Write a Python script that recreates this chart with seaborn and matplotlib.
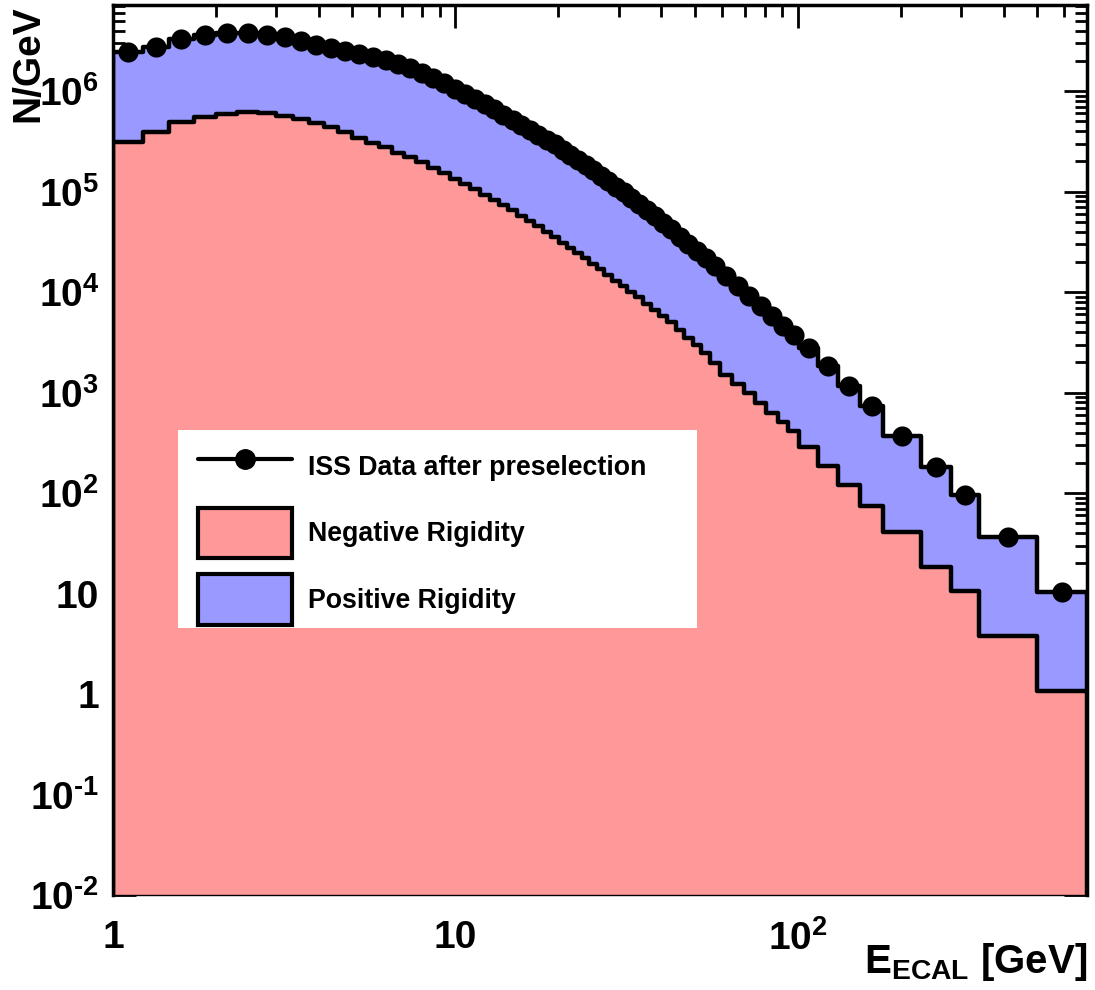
import numpy as np
import pandas as pd
import matplotlib
matplotlib.use("Agg")
import matplotlib.pyplot as plt
import seaborn as sns
from matplotlib.ticker import LogLocator, FuncFormatter, NullFormatter, FixedLocator
from matplotlib.lines import Line2D
from matplotlib.patches import Patch, Rectangle

# bin edges in GeV
edges = [1.00, 1.22, 1.46, 1.72, 2.00, 2.31, 2.65, 3.00, 3.36, 3.73,
         4.12, 4.54, 5.00, 5.49, 6.00, 6.54, 7.10, 7.69, 8.30, 8.95,
         9.62, 10.32, 11.04, 11.80, 12.59, 13.41, 14.25, 15.14, 16.05, 17.00,
         17.98, 18.99, 20.04, 21.13, 22.25, 23.42, 24.62, 25.90, 27.25, 28.68,
         30.21, 31.82, 33.53, 35.36, 37.31, 39.39, 41.61, 44.00, 46.57, 49.33,
         52.33, 55.58, 59.5, 64.5, 69.5, 75.0, 81.0, 87.5, 94.0, 101.0,
         115.0, 131.0, 152.0, 178.0, 229.0, 280.0, 338.0, 500.0, 700.0]

# ISS data (= negative + positive), N/GeV per bin
total = [2.43e6, 2.72e6, 3.29e6, 3.60e6, 3.78e6, 3.78e6, 3.60e6, 3.42e6, 3.16e6, 2.87e6,
         2.70e6, 2.50e6, 2.35e6, 2.20e6, 2.03e6, 1.87e6, 1.70e6, 1.52e6, 1.36e6, 1.20e6,
         1.06e6, 9.4e5, 8.3e5, 7.4e5, 6.6e5, 5.8e5, 5.15e5, 4.6e5, 4.1e5, 3.7e5,
         3.3e5, 2.95e5, 2.62e5, 2.33e5, 2.07e5, 1.84e5, 1.63e5, 1.44e5, 1.27e5, 1.12e5,
         9.85e4, 8.6e4, 7.5e4, 6.6e4, 5.7e4, 4.9e4, 4.2e4, 3.55e4, 3.0e4, 2.55e4,
         2.18e4, 1.81e4, 1.44e4, 1.15e4, 9.1e3, 7.26e3, 5.77e3, 4.59e3, 3.73e3, 2.75e3,
         1.82e3, 1.16e3, 735, 369, 181, 95.5, 36.5, 10.4]

# negative rigidity part, N/GeV per bin
negative = [3.1e5, 3.9e5, 4.9e5, 5.5e5, 5.9e5, 6.15e5, 6.05e5, 5.65e5, 5.25e5, 4.8e5,
            4.35e5, 3.9e5, 3.45e5, 3.08e5, 2.75e5, 2.45e5, 2.2e5, 1.96e5, 1.72e5, 1.52e5,
            1.34e5, 1.19e5, 1.05e5, 9.3e4, 8.2e4, 7.3e4, 6.5e4, 5.75e4, 5.1e4, 4.5e4,
            3.95e4, 3.5e4, 3.1e4, 2.75e4, 2.45e4, 2.18e4, 1.92e4, 1.7e4, 1.48e4, 1.3e4,
            1.15e4, 1.0e4, 8.9e3, 7.7e3, 6.7e3, 5.8e3, 5.0e3, 4.2e3, 3.5e3, 2.95e3,
            2.45e3, 1.95e3, 1.5e3, 1.22e3, 980, 780, 620, 510, 410, 290,
            186, 120, 74, 41, 18.4, 10.6, 3.8, 1.07]

legend_labels = ["ISS Data after preselection", "Negative Rigidity", "Positive Rigidity"]
x_major = [1, 10, 100]
y_major = [1e-2, 1e-1, 1, 10, 1e2, 1e3, 1e4, 1e5, 1e6]

RED = "#FF9999"
BLUE = "#9999FF"

sns.set_theme(style="white")
plt.rcParams["font.family"] = ["Liberation Sans", "DejaVu Sans"]
plt.rcParams["font.weight"] = "bold"
plt.rcParams["text.color"] = "black"
plt.rcParams["xtick.color"] = "black"
plt.rcParams["ytick.color"] = "black"
plt.rcParams["axes.labelcolor"] = "black"
plt.rcParams["mathtext.fontset"] = "custom"
for k in ["rm", "it", "bf", "sf"]:
    plt.rcParams["mathtext." + k] = "Liberation Sans:bold"
plt.rcParams["mathtext.default"] = "rm"

edges_arr = np.array(edges)
centers = np.sqrt(edges_arr[:-1] * edges_arr[1:])
log_bins = np.log10(edges_arr).tolist()  # seaborn bins live in log space when log_scale=True
df = pd.DataFrame({"E": centers, "total": total, "negative": negative})

fig = plt.figure(figsize=(10.95, 9.9), dpi=100)
ax = fig.add_axes([113 / 1095, 95 / 990, 974 / 1095, 890 / 990])

# stacked look: total drawn in blue, negative part drawn over it in red
sns.histplot(data=df, x="E", weights="total", bins=log_bins, log_scale=True,
             element="step", fill=True, color=BLUE, alpha=1, edgecolor="black",
             linewidth=3.2, legend=False, ax=ax)
sns.histplot(data=df, x="E", weights="negative", bins=log_bins, log_scale=True,
             element="step", fill=True, color=RED, alpha=1, edgecolor="black",
             linewidth=3.2, legend=False, ax=ax)
sns.scatterplot(data=df, x="E", y="total", color="black", s=210, linewidth=0,
                zorder=4, legend=False, ax=ax)

ax.set_yscale("log")
ax.set_xlim(1, 700)
ax.set_ylim(1e-2, 7.2e6)
ax.set_xlabel(None)
ax.set_ylabel(None)
ax.set_axisbelow(True)


def fmt(v, pos):
    if np.isclose(v, 1):
        return "1"
    if np.isclose(v, 10):
        return "10"
    e = int(round(np.log10(v)))
    if e < 0:
        return r"$10^{\text{-}%d}$" % (-e)
    return r"$10^{%d}$" % e


ax.xaxis.set_major_locator(FixedLocator(x_major))
ax.xaxis.set_minor_locator(LogLocator(base=10, subs=np.arange(2, 10), numticks=20))
ax.yaxis.set_major_locator(FixedLocator(y_major))
ax.yaxis.set_minor_locator(LogLocator(base=10, subs=np.arange(2, 10), numticks=20))
ax.xaxis.set_major_formatter(FuncFormatter(fmt))
ax.yaxis.set_major_formatter(FuncFormatter(fmt))
ax.xaxis.set_minor_formatter(NullFormatter())
ax.yaxis.set_minor_formatter(NullFormatter())

ax.tick_params(which="both", direction="in", top=True, right=True, bottom=True, left=True,
               width=2, color="black", labelsize=28, labelcolor="black")
ax.tick_params(which="major", length=16.5)
ax.tick_params(which="minor", length=8.6)
ax.tick_params(axis="x", which="major", pad=18)
ax.tick_params(axis="y", which="major", pad=10)
for lab in ax.get_xticklabels() + ax.get_yticklabels():
    lab.set_fontweight("bold")

for side in ["left", "top", "right"]:
    ax.spines[side].set_linewidth(2.5)
    ax.spines[side].set_color("black")
ax.spines["bottom"].set_linewidth(1.0)
ax.spines["bottom"].set_color("black")

# legend box
ax.add_patch(Rectangle((65 / 974, 267 / 890), 519 / 974, 198 / 890, transform=ax.transAxes,
                       facecolor="white", edgecolor="none", zorder=4.5))
handles = [Line2D([0], [0], color="black", lw=3, marker="o", markersize=14),
           Patch(facecolor=RED, edgecolor="black", linewidth=3),
           Patch(facecolor=BLUE, edgecolor="black", linewidth=3)]
leg = ax.legend(handles, legend_labels, loc="upper left",
                bbox_to_anchor=(85 / 974, 453 / 890), frameon=False, borderpad=0,
                borderaxespad=0, handlelength=3.5, handleheight=2.5,
                labelspacing=0.6, handletextpad=0.62,
                prop={"weight": "bold", "size": 19.3})
leg.set_zorder(5)
for t in leg.get_texts():
    t.set_color("black")

fig.text(28 / 1095, 1 - 5 / 990, "N/GeV", rotation=90, ha="center", va="top",
         fontsize=28, fontweight="bold", color="black")
fig.text(1087 / 1095, 17 / 990, r"$E_{ECAL}$ [GeV]", ha="right", va="baseline",
         fontsize=29, fontweight="bold", color="black")

fig.savefig("out.png", dpi=100)
